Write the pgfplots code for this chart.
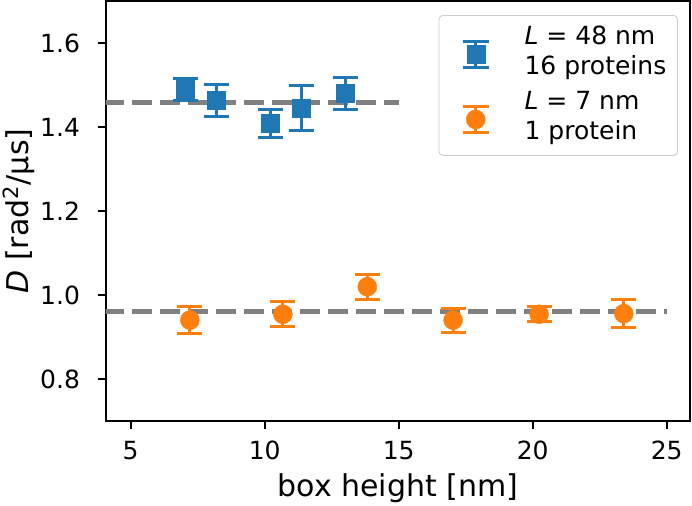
\documentclass[border=0pt]{standalone}
\usepackage{fontspec}
\setmainfont{DejaVu Sans}
\usepackage{pgfplots}
\pgfplotsset{compat=1.18}
\usetikzlibrary{calc}
\definecolor{c0}{HTML}{1F77B4}
\definecolor{c1}{HTML}{FF7F0E}
\definecolor{dgray}{HTML}{808080}

% legend symbol: error bar with caps plus the marker, centred on the two text lines
\pgfplotsset{ebarlegend/.style={legend image code/.code={
    \path (-12.5pt,0pt) (6.4pt,0pt);
    \draw[##1, overlay, line width=1.5pt] (0pt,-11.4pt) -- (0pt,1.4pt)
      (-6.4pt,-11.4pt) -- (6.4pt,-11.4pt) (-6.4pt,1.4pt) -- (6.4pt,1.4pt);
    \draw[##1, overlay] plot coordinates {(0pt,-5pt)};
  }}}

\begin{document}
\begin{tikzpicture}
\begin{axis}[
  name=ax,
  width=292pt, height=210pt, scale only axis,
  xmin=4.07, xmax=25.87, ymin=0.7, ymax=1.7,
  xtick={5,10,15,20,25}, ytick={0.8,1.0,1.2,1.4,1.6},
  /pgf/number format/assume math mode=true,
  tick align=outside, tick pos=left,
  major tick length=4pt,
  tick style={black, line width=1pt},
  axis line style={line width=1pt},
  ticklabel style={font=\fontsize{12.5}{15}\selectfont, inner sep=0pt},
  xticklabel style={anchor=base, yshift=-15pt},
  yticklabel style={anchor=east, xshift=-8.7pt,
    /pgf/number format/fixed, /pgf/number format/fixed zerofill,
    /pgf/number format/precision=1},
  every axis x label/.style={at={(axis description cs:0.5,0)}, anchor=base, yshift=-37.5pt, inner sep=0pt},
  every axis y label/.style={at={(axis description cs:-0.1486,0.5)}, rotate=90, anchor=center, inner sep=0pt},
  label style={font=\fontsize{15}{18}\selectfont},
  xlabel={box height [nm]},
  ylabel={\textit{D} [rad\textsuperscript{2}/µs]},
  legend style={at={(1,1)}, anchor=north east, xshift=-6pt, yshift=-7pt,
    draw=black!20, rounded corners=2pt, fill=white,
    font=\fontsize{12.5}{15}\selectfont,
    cells={anchor=base west},
    nodes={inner sep=0pt, text depth=3pt}, inner xsep=5.65pt, inner ysep=5pt,
    column sep=17.8pt, row sep=2.5pt},
]
% reference levels
\addplot[forget plot, dgray, line width=2.5pt, dash pattern=on 10pt off 4pt] coordinates {(4,1.459) (15,1.459)};
\addplot[forget plot, dgray, line width=2.5pt, dash pattern=on 10pt off 4pt] coordinates {(4,0.961) (25,0.961)};

% L = 48 nm, 16 proteins
\addplot[c0, only marks, mark=square*, mark size=4.5pt,
  mark options={solid, fill=c0, draw=c0, line width=0.2pt}, ebarlegend,
  error bars/.cd, y dir=both, y explicit,
  error bar style={line width=1.5pt, c0},
  error mark options={rotate=90, line width=1.5pt, mark size=6.25pt, c0}]
coordinates {
(7.05,1.490) +- (0,0.026)
(8.20,1.4635) +- (0,0.0385)
(10.22,1.4085) +- (0,0.0335)
(11.37,1.4445) +- (0,0.0535)
(13.02,1.480) +- (0,0.038)
};
\addlegendentry{\rule{0pt}{9.5pt}\textit{L} = 48 nm}
\addlegendimage{empty legend}
\addlegendentry{\rule{0pt}{9.5pt}16 proteins}

% L = 7 nm, 1 protein
\addplot[c1, only marks, mark=*, mark size=4.75pt,
  mark options={solid, fill=c1, draw=c1, line width=0.2pt}, ebarlegend,
  error bars/.cd, y dir=both, y explicit,
  error bar style={line width=1.5pt, c1},
  error mark options={rotate=90, line width=1.5pt, mark size=6.25pt, c1}]
coordinates {
(7.21,0.9405) +- (0,0.0315)
(10.68,0.9545) +- (0,0.0295)
(13.83,1.020) +- (0,0.030)
(17.03,0.9405) +- (0,0.0285)
(20.24,0.9545) +- (0,0.0175)
(23.40,0.956) +- (0,0.034)
};
\addlegendentry{\rule{0pt}{12pt}\textit{L} = 7 nm}
\addlegendimage{empty legend}
\addlegendentry{\rule{0pt}{9.5pt}1 protein}
\end{axis}
\pgfresetboundingbox
\path ($(ax.south west)+(-52.85pt,-42pt)$) rectangle ($(ax.north east)+(1pt,0.5pt)$);
\end{tikzpicture}
\end{document}
